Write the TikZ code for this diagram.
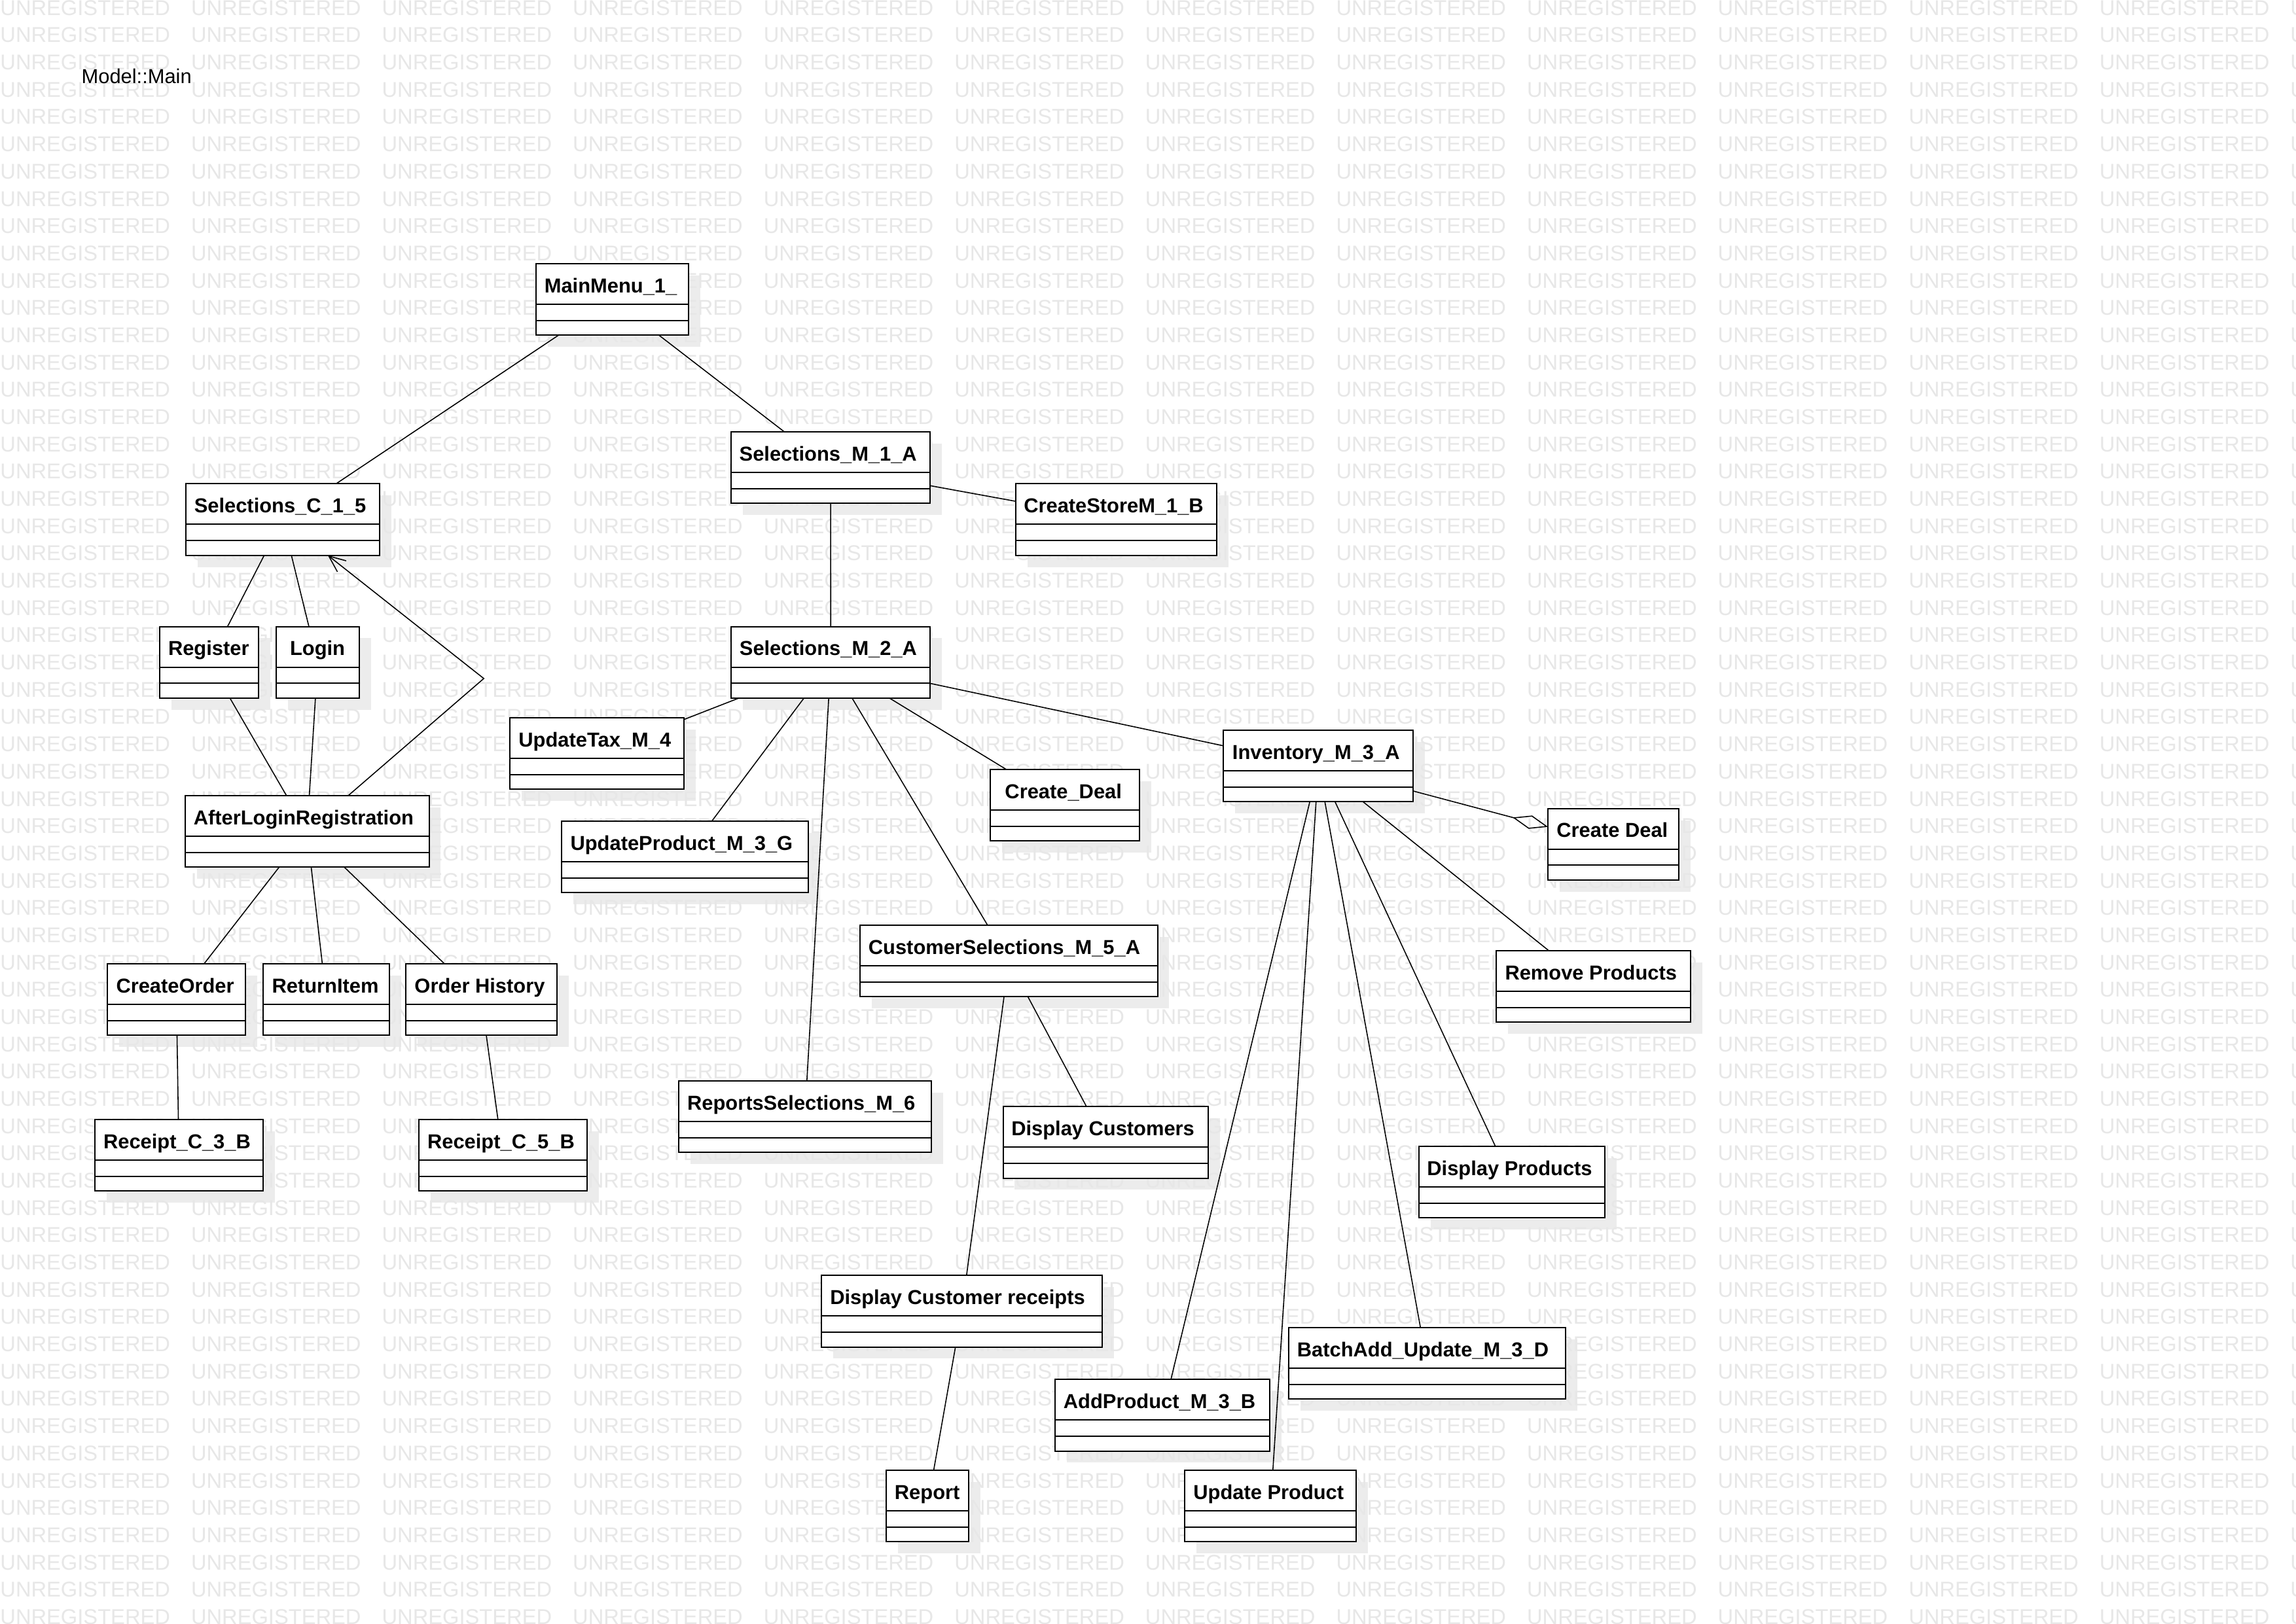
\documentclass[tikz,border=0pt]{standalone}
\usepackage{fontspec}
\setmainfont{Liberation Sans}
\usetikzlibrary{arrows.meta}

\pgfdeclarelayer{paper}
\pgfdeclarelayer{shadows}
\pgfdeclarelayer{wmark}
\pgfsetlayers{paper,shadows,wmark,main}

\definecolor{shadowgray}{gray}{0.925}
\definecolor{wmgray}{gray}{0.905}

\tikzset{
  classbox/.style={draw, fill=white, line width=0.9pt, inner sep=0pt, outer sep=0pt,
    minimum height=48.8pt, anchor=north west},
  classline/.style={line width=0.9pt},
  classtitle/.style={inner sep=0pt, anchor=base,
    font=\bfseries\fontsize{13.8}{16}\selectfont},
  boxshadow/.style={fill=shadowgray},
  assoc/.style={line width=0.7pt},
  navigable/.style={assoc, -{Straight Barb[length=11.3pt, width=9.6pt]}},
  aggregation/.style={assoc, -{Diamond[open, length=25pt, width=9.4pt]}},
  wmtext/.style={inner sep=0pt, anchor=base west, text=wmgray,
    font=\fontsize{14.6}{16}\selectfont},
}

% UML class: name, left, top, right, title
\newcommand{\umlclass}[5]{%
  \node[classbox, minimum width={(#4-#2)*1pt}] (#1) at (#2,#3) {};
  \begin{pgfonlayer}{shadows}
    \fill[boxshadow] ([shift={(8pt,-8pt)}]#1.north west) rectangle ([shift={(8pt,-8pt)}]#1.south east);
  \end{pgfonlayer}
  \draw[classline] ([yshift=-27.7pt]#1.north west) -- ([yshift=-27.7pt]#1.north east);
  \draw[classline] ([yshift=-38.8pt]#1.north west) -- ([yshift=-38.8pt]#1.north east);
  \pgfmathsetmacro\titleshift{-(#4-#2-50)*0.02}%
  \node[classtitle] (#1-name) at ([shift={(\titleshift pt,-19.8pt)}]#1.north) {#5};
}

\begin{document}
\begin{tikzpicture}[x=1pt, y=-1pt]
  \useasboundingbox (0,0) rectangle (1568,1109);
  \begin{pgfonlayer}{paper}
    \fill[white] (0,0) rectangle (1568,1109);
  \end{pgfonlayer}

  % evaluation-copy watermark
  \begin{pgfonlayer}{wmark}
    \begin{scope}
      \clip (0,0) rectangle (1568,1109);
      \foreach \r in {0,...,59}{
        \foreach \c in {0,...,12}{
          \node[wmtext] (wm-\r-\c) at ({130.33*\c},{10.4+18.63*\r}) {UNREGISTERED};
        }
      }
    \end{scope}
  \end{pgfonlayer}

  \node[inner sep=0pt, anchor=base west, font=\fontsize{13.8}{16}\selectfont]
    (modelname) at (55.5,57.1) {Model::Main};

  % classes
  \umlclass{mainmenu}{366}{180}{470.3}{MainMenu\_1\_}
  \umlclass{selm1a}{499.2}{295}{635.3}{Selections\_M\_1\_A}
  \umlclass{createstore}{693.6}{330.5}{831}{CreateStoreM\_1\_B}
  \umlclass{selc15}{126.8}{330.5}{259.2}{Selections\_C\_1\_5}
  \umlclass{register}{109}{428}{176.7}{Register}
  \umlclass{login}{188.5}{428}{245.4}{Login}
  \umlclass{selm2a}{499.4}{428}{635.3}{Selections\_M\_2\_A}
  \umlclass{updatetax}{348.2}{490.3}{467}{UpdateTax\_M\_4}
  \umlclass{createdealu}{676.3}{525.7}{778.2}{Create\_Deal}
  \umlclass{inventory}{835.6}{498.8}{965.1}{Inventory\_M\_3\_A}
  \umlclass{createdeal}{1057.2}{552.3}{1146.5}{Create Deal}
  \umlclass{afterlogin}{126.4}{543.4}{293}{AfterLoginRegistration}
  \umlclass{updateprodg}{383.7}{561}{552}{UpdateProduct\_M\_3\_G}
  \umlclass{custsel}{587.4}{632}{790.5}{CustomerSelections\_M\_5\_A}
  \umlclass{removeprod}{1021.8}{649.5}{1154.5}{Remove Products}
  \umlclass{createorder}{73.4}{658.3}{167.6}{CreateOrder}
  \umlclass{returnitem}{179.8}{658.3}{266}{ReturnItem}
  \umlclass{orderhist}{277.1}{658.3}{380.3}{Order History}
  \umlclass{reports}{463.4}{738.3}{635.9}{ReportsSelections\_M\_6}
  \umlclass{dispcust}{685}{756}{825}{Display Customers}
  \umlclass{receiptc3}{64.8}{764.8}{179.6}{Receipt\_C\_3\_B}
  \umlclass{receiptc5}{286.1}{764.8}{400.8}{Receipt\_C\_5\_B}
  \umlclass{dispprod}{969}{783}{1096}{Display Products}
  \umlclass{dispcustrec}{560.8}{871.3}{752.8}{Display Customer receipts}
  \umlclass{batchadd}{880}{907}{1069}{BatchAdd\_Update\_M\_3\_D}
  \umlclass{addprod}{720.4}{942.4}{867.2}{AddProduct\_M\_3\_B}
  \umlclass{report}{605.2}{1004.3}{661.5}{Report}
  \umlclass{updateproduct}{809.1}{1004.3}{926.3}{Update Product}

  \coordinate (bend) at (330.4,463.5);

  % associations
  \draw[assoc] (mainmenu) -- (selc15);
  \draw[assoc] (mainmenu) -- (selm1a);
  \draw[assoc] (selm1a) -- (createstore);
  \draw[assoc] (selm1a) -- (selm2a);
  \draw[assoc] (selc15) -- (register);
  \draw[assoc] (selc15) -- (login);
  \draw[assoc] (register) -- (afterlogin);
  \draw[assoc] (login) -- (afterlogin);
  \draw[navigable] (afterlogin) -- (bend) -- (selc15);
  \draw[assoc] (afterlogin) -- (createorder);
  \draw[assoc] (afterlogin) -- (returnitem);
  \draw[assoc] (afterlogin) -- (orderhist);
  \draw[assoc] (createorder) -- (receiptc3);
  \draw[assoc] (orderhist) -- (receiptc5);
  \draw[assoc] (selm2a) -- (updatetax);
  \draw[assoc] (selm2a) -- (updateprodg);
  \draw[assoc] (selm2a) -- (reports);
  \draw[assoc] (selm2a) -- (custsel);
  \draw[assoc] (selm2a) -- (createdealu);
  \draw[assoc] (selm2a) -- (inventory);
  \draw[aggregation] (inventory) -- (createdeal);
  \draw[assoc] (inventory) -- (removeprod);
  \draw[assoc] (inventory) -- (dispprod);
  \draw[assoc] (inventory) -- (batchadd);
  \draw[assoc] (inventory) -- (updateproduct);
  \draw[assoc] (inventory) -- (addprod);
  \draw[assoc] (custsel) -- (dispcust);
  \draw[assoc] (custsel) -- (dispcustrec);
  \draw[assoc] (dispcustrec) -- (report);
\end{tikzpicture}
\end{document}
